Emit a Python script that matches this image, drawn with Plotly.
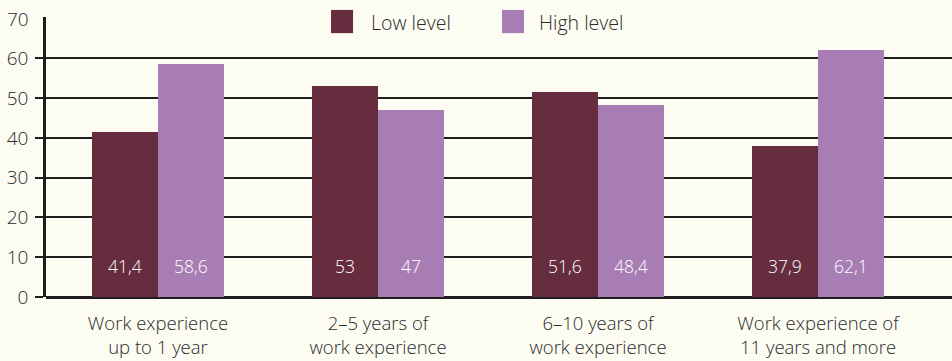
import plotly.graph_objects as go

# Work experience groups and share of respondents (%) per level
categories = [
    "Work experience<br>up to 1 year",
    "2–5 years of<br>work experience",
    "6–10 years of<br>work experience",
    "Work experience of<br>11 years and more",
]
series_names = ["Low level", "High level"]
low_level = [41.4, 53, 51.6, 37.9]
high_level = [58.6, 47, 48.4, 62.1]
y_ticks = [0, 10, 20, 30, 40, 50, 60]
y_top_label = 70

colors = ["#662d3e", "#a87db4"]
bg = "#fcfcf3"
ink = "#2a2a2a"
font_family = "'Open Sans', Lato, sans-serif"
light = 300

bar_w = 0.3
offsets = [-bar_w / 2, bar_w / 2]
pos = list(range(len(categories)))


def fmt(v):
    s = f"{v:g}"
    return s.replace(".", ",")


fig = go.Figure()
for name, vals, col, off in zip(series_names, [low_level, high_level], colors, offsets):
    fig.add_trace(go.Bar(
        x=[p + off for p in pos],
        y=vals,
        width=bar_w,
        name=name,
        marker=dict(color=col, line=dict(width=0)),
        showlegend=False,
        hoverinfo="y+name",
    ))

annotations = []
# value labels near the bottom of each bar
for vals, off in zip([low_level, high_level], offsets):
    for p, v in zip(pos, vals):
        annotations.append(dict(
            x=p + off, y=7.8, xref="x", yref="y",
            text=fmt(v), showarrow=False,
            font=dict(color="white", size=17.5, family=font_family, weight=light),
            xanchor="center", yanchor="middle",
        ))

# top tick label without grid line
annotations.append(dict(
    x=0, y=y_top_label, xref="paper", yref="y",
    text=str(y_top_label), showarrow=False, xanchor="right", yanchor="middle",
    xshift=-15, font=dict(color=ink, size=19, family=font_family, weight=light),
))

# legend drawn as swatches + labels
shapes = []
legend_items = [(0.3146, 0.3389, 0.3565), (0.5033, 0.5276, 0.5419)]
for (x0, x1, xt), name, col in zip(legend_items, series_names, colors):
    shapes.append(dict(type="rect", xref="paper", yref="paper",
                       x0=x0, x1=x1, y0=0.9424, y1=1.0252,
                       fillcolor=col, line=dict(width=0), layer="above"))
    annotations.append(dict(
        x=xt, y=0.982, xref="paper", yref="paper", text=name,
        showarrow=False, xanchor="left", yanchor="middle",
        font=dict(color=ink, size=19.5, family=font_family, weight=light),
    ))

fig.update_layout(
    width=952, height=361,
    margin=dict(l=46, r=0, t=17, b=64),
    paper_bgcolor=bg, plot_bgcolor=bg,
    font=dict(family=font_family, color=ink, size=17, weight=light),
    shapes=shapes,
    annotations=annotations,
    bargap=0,
)
fig.update_xaxes(
    range=[-0.509, 3.609],
    tickvals=pos, ticktext=categories,
    showgrid=False, zeroline=False,
    showline=False, automargin=False,
    ticks="outside", ticklen=0, ticklabelstandoff=10,
    tickfont=dict(size=18.5, color=ink, family=font_family, weight=light),
)
fig.update_yaxes(
    range=[0, 70.4],
    tickvals=y_ticks, automargin=False,
    showgrid=True, gridcolor="#1e1e1e", gridwidth=2,
    zeroline=True, zerolinecolor="#1e1e1e", zerolinewidth=2.5,
    showline=True, linecolor="#1e1e1e", linewidth=2.5,
    ticks="outside", ticklen=8, tickwidth=2, tickcolor="#1e1e1e",
    ticklabelstandoff=3,
    tickfont=dict(size=19, color=ink, family=font_family, weight=light),
)

fig.write_html("out.html")
